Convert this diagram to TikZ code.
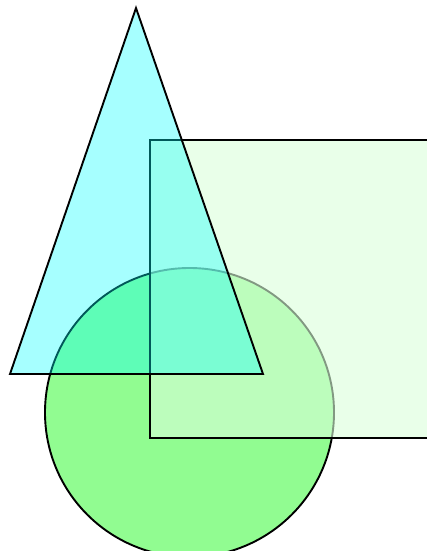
\documentclass[tikz,border=0pt]{standalone}
\usepackage{tikz}
\definecolor{discgreen}{RGB}{145,252,145}
\definecolor{sheetgreen}{RGB}{218,255,218}
\definecolor{conecyan}{RGB}{0,255,255}

\begin{document}
\begin{tikzpicture}[
  x=1pt, y=-1pt,
  shape line/.style={draw=black, line width=1.9pt, line join=miter},
  disc/.style={shape line, fill=discgreen},
  sheet/.style={fill=sheetgreen, fill opacity=0.6},
  cone/.style={shape line, fill=conecyan, fill opacity=0.35}
]
\clip (0,0) rectangle (427,551);
% circle at the bottom
\path [disc] (189.5,412.5) circle (144.5);
% rectangle, open on the right
\path [sheet] (150,140) rectangle (430,438);
\draw [shape line] (430,140) -- (150,140) -- (150,438) -- (430,438);
% triangle on top
\path [cone] (136,8) -- (10,374) -- (263,374) -- cycle;
\end{tikzpicture}
\end{document}
